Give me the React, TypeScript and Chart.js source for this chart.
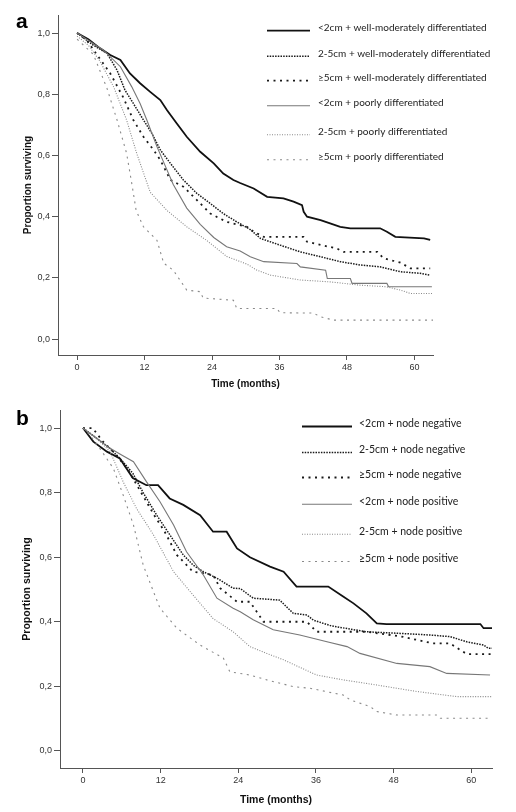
import React, { useEffect, useRef } from "react";
import { Chart, registerables } from "chart.js";

Chart.register(...registerables);

// ---------- shared ticks ----------
const xTicks = [0, 12, 24, 36, 48, 60];
const yTicks = [0, 0.2, 0.4, 0.6, 0.8, 1.0];

// ---------- panel a ----------
const labelsA = [
  "<2cm + well-moderately differentiated",
  "2-5cm + well-moderately differentiated",
  "\u22655cm + well-moderately differentiated",
  "<2cm + poorly differentiated",
  "2-5cm + poorly differentiated",
  "\u22655cm + poorly differentiated",
];

const a1T = [0, 2, 4.1, 5.9, 7.7, 9.4, 11.2, 13, 14.8, 16, 17.7, 19.5, 21.9, 24.3, 26, 27.8, 29, 31.4, 33.8, 36.7, 38.5, 40, 40.3, 40.9, 43.3, 45, 46.8, 48.6, 53.9, 55.1, 56.6, 61.7, 62.8];
const a1S = [1, 0.98, 0.95, 0.928, 0.912, 0.868, 0.836, 0.808, 0.781, 0.748, 0.705, 0.661, 0.612, 0.574, 0.541, 0.52, 0.51, 0.492, 0.465, 0.46, 0.449, 0.438, 0.416, 0.4, 0.389, 0.378, 0.367, 0.362, 0.362, 0.351, 0.334, 0.329, 0.324];

const a2T = [0, 2.9, 5.3, 7.1, 8.5, 10, 11.8, 13.3, 14.8, 16.6, 18.9, 21.3, 23.7, 26, 28.4, 30.8, 32.6, 36.1, 39.7, 43.3, 46.8, 50.4, 53.9, 57.5, 61, 62.8];
const a2S = [1, 0.96, 0.934, 0.879, 0.814, 0.77, 0.716, 0.672, 0.618, 0.574, 0.52, 0.476, 0.443, 0.41, 0.383, 0.358, 0.329, 0.307, 0.285, 0.269, 0.253, 0.242, 0.236, 0.22, 0.215, 0.209];

const a3T = [0, 1.7, 3.5, 5.9, 8.2, 10, 11.8, 13.6, 14.8, 16.6, 18.9, 21, 23.7, 26.6, 30.2, 31.5, 33.2, 40.3, 40.9, 44, 46.2, 47.4, 53.4, 54.5, 57.5, 59.3, 62.8];
const a3S = [1, 0.977, 0.93, 0.868, 0.79, 0.716, 0.661, 0.618, 0.585, 0.52, 0.498, 0.46, 0.41, 0.383, 0.367, 0.35, 0.334, 0.334, 0.318, 0.305, 0.296, 0.285, 0.285, 0.264, 0.25, 0.231, 0.231];

const a4T = [0, 2.5, 4.7, 7.7, 9.7, 11.2, 12.4, 14.2, 16, 17.1, 19.5, 21.9, 24.3, 26.6, 29, 30.8, 33.2, 39.1, 39.7, 44.2, 44.5, 48.6, 48.9, 55.1, 55.4, 63.1];
const a4S = [1, 0.97, 0.944, 0.89, 0.825, 0.77, 0.716, 0.629, 0.552, 0.505, 0.428, 0.375, 0.332, 0.302, 0.288, 0.269, 0.253, 0.247, 0.236, 0.225, 0.198, 0.198, 0.182, 0.182, 0.171, 0.171];

const a5T = [0, 2, 4, 6.5, 8.8, 10.6, 13, 16, 19.5, 23, 26.6, 30.2, 32, 34.4, 39.7, 45, 50.4, 55, 57.5, 59.3, 63.4];
const a5S = [0.99, 0.96, 0.91, 0.824, 0.716, 0.607, 0.48, 0.42, 0.367, 0.323, 0.27, 0.245, 0.225, 0.209, 0.193, 0.187, 0.176, 0.171, 0.16, 0.149, 0.149];

const a6T = [0, 2.9, 5.3, 7.1, 8.8, 9.8, 10.5, 11.8, 14.2, 15.4, 17.1, 19.5, 21.9, 22.4, 27.8, 28.4, 35.5, 36.1, 42, 43.3, 45.6, 63.4];
const a6S = [0.98, 0.93, 0.82, 0.716, 0.607, 0.5, 0.42, 0.367, 0.323, 0.248, 0.225, 0.16, 0.155, 0.134, 0.127, 0.1, 0.1, 0.086, 0.085, 0.073, 0.062, 0.062];

// ---------- panel b ----------
const labelsB = [
  "<2cm + node negative",
  "2-5cm + node negative",
  "\u22655cm + node negative",
  "<2cm + node positive",
  "2-5cm + node positive",
  "\u22655cm + node positive",
];

const b1T = [0, 1.6, 3.7, 5.7, 7.7, 9.8, 11.6, 13.4, 15.5, 18.1, 20.1, 22.2, 23.8, 25.8, 28.9, 31, 33, 37.9, 40.2, 41.8, 43.8, 45.4, 46.9, 61.4, 61.9, 63.2];
const b1S = [1, 0.958, 0.927, 0.906, 0.845, 0.823, 0.823, 0.782, 0.762, 0.73, 0.679, 0.679, 0.627, 0.6, 0.571, 0.555, 0.509, 0.509, 0.478, 0.457, 0.426, 0.395, 0.393, 0.393, 0.38, 0.38];

const b2T = [0, 2, 4, 6, 7.7, 9.3, 11.4, 13.4, 15.5, 17, 18.6, 20.7, 23.2, 24.3, 26.3, 30.4, 32.5, 34.6, 35.6, 38.4, 43.8, 49, 53.6, 56.7, 59.3, 61.9, 62.6, 63.2];
const b2S = [1, 0.97, 0.94, 0.9, 0.86, 0.8, 0.73, 0.67, 0.607, 0.576, 0.555, 0.535, 0.504, 0.503, 0.473, 0.467, 0.426, 0.421, 0.405, 0.387, 0.369, 0.364, 0.359, 0.354, 0.338, 0.328, 0.318, 0.318];

const b3T = [0, 1.5, 3, 5, 7, 9, 11, 12.6, 14.5, 17, 20.1, 21.2, 23.8, 25.8, 27.9, 34.6, 36.1, 43.8, 49, 54.1, 56.7, 59.3, 63.3];
const b3S = [1, 1, 0.96, 0.92, 0.87, 0.8, 0.73, 0.68, 0.607, 0.555, 0.545, 0.504, 0.462, 0.462, 0.4, 0.4, 0.369, 0.369, 0.355, 0.333, 0.333, 0.3, 0.3];

const b4T = [0, 2, 4, 5.7, 7.8, 9.8, 11.9, 14, 16, 18.6, 20.7, 23.2, 24.3, 26.3, 29.4, 33.5, 37.7, 40.8, 42.8, 48.5, 53.6, 56.2, 62.9];
const b4S = [1, 0.97, 0.94, 0.92, 0.896, 0.834, 0.772, 0.7, 0.617, 0.545, 0.473, 0.442, 0.431, 0.406, 0.375, 0.359, 0.338, 0.323, 0.302, 0.271, 0.261, 0.24, 0.235];

const b5T = [0, 2, 4.2, 6.2, 8.3, 10.9, 14, 17, 20.1, 23.2, 25.8, 28.4, 31, 36.1, 40.2, 45.4, 51.6, 57.8, 63.2];
const b5S = [1, 0.97, 0.927, 0.834, 0.75, 0.669, 0.555, 0.483, 0.41, 0.369, 0.323, 0.302, 0.282, 0.235, 0.22, 0.204, 0.184, 0.168, 0.168];

const b6T = [0, 1, 2.6, 4.7, 6.2, 7.8, 9.3, 10.9, 11.9, 14.5, 18.1, 21.7, 22.7, 25.8, 28.4, 32.5, 35.1, 40.2, 41.3, 44.4, 45.4, 48.5, 54.7, 55.2, 63.2];
const b6S = [1, 0.98, 0.937, 0.875, 0.793, 0.7, 0.576, 0.493, 0.442, 0.38, 0.328, 0.287, 0.245, 0.235, 0.22, 0.199, 0.194, 0.173, 0.158, 0.137, 0.122, 0.111, 0.111, 0.101, 0.101];

// ---------- styles ----------
const seriesStyles = [
  { color: "#111111", width: 1.8, dash: [] as number[] },
  { color: "#1a1a1a", width: 1.5, dash: [1.5, 1.2] },
  { color: "#1a1a1a", width: 1.8, dash: [2, 4.5] },
  { color: "#777777", width: 1.1, dash: [] as number[] },
  { color: "#8a8a8a", width: 1.1, dash: [1, 1.5] },
  { color: "#8a8a8a", width: 1.1, dash: [2, 4.5] },
];

const FONT = '"Liberation Sans", Arial, sans-serif';
const LEGEND_FONT = 'Lato, "Open Sans", sans-serif';

const overlayPlugin = {
  id: "overlay",
  afterDraw(chart: any, _args: any, o: any) {
    const ctx = chart.ctx as CanvasRenderingContext2D;
    ctx.save();
    ctx.fillStyle = "#000";
    ctx.textAlign = "left";
    ctx.textBaseline = "alphabetic";
    ctx.font = `bold ${o.letterSize}px ${FONT}`;
    ctx.fillText(o.letter, o.letterX, o.letterY);
    o.labels.forEach((label: string, i: number) => {
      const st = seriesStyles[i];
      const y = o.rows[i];
      ctx.strokeStyle = st.color;
      ctx.lineWidth = st.width;
      ctx.setLineDash(st.dash);
      ctx.beginPath();
      ctx.moveTo(o.lineX1, y + o.lineDy);
      ctx.lineTo(o.lineX2, y + o.lineDy);
      ctx.stroke();
      ctx.setLineDash([]);
      ctx.fillStyle = "#222";
      ctx.textBaseline = "middle";
      ctx.font = `${o.legendSize}px ${LEGEND_FONT}`;
      ctx.fillText(label, o.textX, y);
    });
    ctx.restore();
  },
};

function buildConfig(p: any) {
  const datasets = p.series.map((s: [number[], number[]], i: number) => ({
    label: p.labels[i],
    data: s[0].map((t, k) => ({ x: t, y: s[1][k] })),
    borderColor: seriesStyles[i].color,
    borderWidth: seriesStyles[i].width,
    borderDash: seriesStyles[i].dash,
    pointRadius: 0,
    tension: 0,
    fill: false,
    order: 6 - i,
  }));
  return {
    type: "line",
    data: { datasets },
    plugins: [overlayPlugin],
    options: {
      animation: false,
      responsive: false,
      events: [],
      layout: { padding: p.padding },
      plugins: {
        legend: { display: false },
        tooltip: { enabled: false },
        overlay: p.overlay,
      },
      scales: {
        x: {
          type: "linear",
          min: p.xMin,
          max: p.xMax,
          afterBuildTicks: (s: any) => {
            s.ticks = xTicks.map((v) => ({ value: v }));
          },
          afterFit: (s: any) => {
            s.height = p.xAxisH;
          },
          grid: { drawOnChartArea: false, drawTicks: true, tickLength: 5, color: "#555", tickWidth: 1 },
          border: { display: true, color: "#555", width: 1 },
          ticks: {
            font: { family: FONT, size: 9 },
            color: "#333",
            padding: 2,
            maxRotation: 0,
            autoSkip: false,
            callback: (v: any) => String(v),
          },
          title: {
            display: true,
            text: "Time (months)",
            color: "#111",
            font: { family: FONT, size: p.titleSize, weight: "bold" },
            padding: { top: 0, bottom: p.xTitlePad },
          },
        },
        y: {
          type: "linear",
          min: p.yMin,
          max: p.yMax,
          afterBuildTicks: (s: any) => {
            s.ticks = yTicks.map((v) => ({ value: v }));
          },
          afterFit: (s: any) => {
            s.width = p.yAxisW;
          },
          grid: { drawOnChartArea: false, drawTicks: true, tickLength: 6, color: "#555", tickWidth: 1 },
          border: { display: true, color: "#555", width: 1 },
          ticks: {
            font: { family: FONT, size: 9 },
            color: "#333",
            padding: 2,
            autoSkip: false,
            callback: (v: any) => Number(v).toFixed(1).replace(".", ","),
          },
          title: {
            display: true,
            text: "Proportion surviving",
            color: "#111",
            font: { family: FONT, size: p.titleSize, weight: "bold" },
            padding: { top: p.yTitlePad, bottom: 0 },
          },
        },
      },
    },
  };
}

const panelA = {
  labels: labelsA,
  series: [[a1T, a1S], [a2T, a2S], [a3T, a3S], [a4T, a4S], [a5T, a5S], [a6T, a6S]],
  xMin: -3.4,
  xMax: 63.3,
  yMin: -0.052,
  yMax: 1.059,
  padding: { left: 0, top: 15, right: 83, bottom: 0 },
  xAxisH: 45,
  yAxisW: 58,
  titleSize: 10,
  xTitlePad: 10,
  yTitlePad: 22,
  overlay: {
    letter: "a",
    letterX: 16,
    letterY: 28,
    letterSize: 21,
    labels: labelsA,
    rows: [27.7, 53.3, 77.7, 102.7, 131.7, 156.7],
    lineDy: 3,
    lineX1: 267,
    lineX2: 310,
    textX: 318,
    legendSize: 10,
  },
};

const panelB = {
  labels: labelsB,
  series: [[b1T, b1S], [b2T, b2S], [b3T, b3S], [b4T, b4S], [b5T, b5S], [b6T, b6S]],
  xMin: -3.55,
  xMax: 63.2,
  yMin: -0.053,
  yMax: 1.056,
  padding: { left: 0, top: 10, right: 24, bottom: 0 },
  xAxisH: 44,
  yAxisW: 60,
  titleSize: 10.5,
  xTitlePad: 6,
  yTitlePad: 21,
  overlay: {
    letter: "b",
    letterX: 16,
    letterY: 25,
    letterSize: 21,
    labels: labelsB,
    rows: [24, 50, 75, 101.7, 131.7, 159],
    lineDy: 2.5,
    lineX1: 302,
    lineX2: 352,
    textX: 359,
    legendSize: 10.5,
  },
};

function KMChart({ panel, width, height }: { panel: any; width: number; height: number }) {
  const ref = useRef<HTMLCanvasElement>(null);
  useEffect(() => {
    const chart = new Chart(ref.current as HTMLCanvasElement, buildConfig(panel) as any);
    return () => chart.destroy();
  }, [panel]);
  return <canvas ref={ref} width={width} height={height} style={{ display: "block", width, height }} />;
}

export default function App() {
  return (
    <div style={{ position: "fixed", left: 0, top: 0, width: 516, height: 812, background: "#fff" }}>
      <KMChart panel={panelA} width={516} height={400} />
      <KMChart panel={panelB} width={516} height={412} />
    </div>
  );
}
